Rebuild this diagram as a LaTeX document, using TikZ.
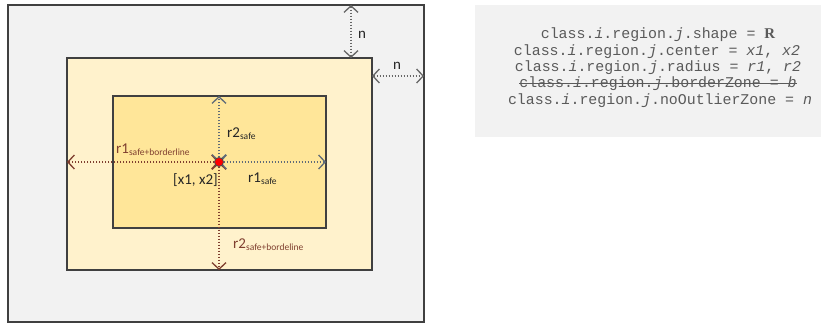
\documentclass[tikz,border=0pt]{standalone}
\usepackage{fontspec}
\setmainfont{Carlito}
\newfontfamily\monofnt{Liberation Mono}
\newfontfamily\serifbf{Liberation Serif}
\usetikzlibrary{arrows.meta}
\definecolor{boxgray}{HTML}{F2F2F2}
\definecolor{midfill}{HTML}{FFF2CC}
\definecolor{innfill}{HTML}{FFE699}
\definecolor{edgec}{HTML}{404040}
\definecolor{safec}{HTML}{5F6B78}
\definecolor{bordc}{HTML}{7F3F2F}
\definecolor{txtg}{HTML}{5A5A5A}
\newcommand{\sbs}[1]{\raisebox{-2.5pt}{\fontsize{9.5}{9.5}\selectfont #1}}
\tikzset{
  zone/.style={draw=edgec, line width=1.2pt},
  barb/.tip={Straight Barb[length=6.5pt,width=14pt,line width=1.3pt]},
  dimarrow/.style={dash pattern=on 1.6pt off 1.4pt, line width=1.1pt, barb-barb},
  lbl/.style={anchor=base west, inner sep=0pt, font=\fontsize{15}{15}\selectfont},
  code/.style={inner sep=0pt, text=txtg, font=\monofnt\fontsize{14.9}{15}\selectfont},
}
\begin{document}
\begin{tikzpicture}[x=1pt,y=-1pt]
\useasboundingbox (0,0) rectangle (824,324);
% boxes
\draw[zone, fill=boxgray] (8,5) rectangle (424,322);
\draw[zone, fill=midfill] (67,58) rectangle (372,270);
\draw[zone, fill=innfill] (113,96) rectangle (326,228);
% named points
\coordinate (c) at (219,162);
\coordinate (midL) at (67,162);
\coordinate (midB) at (219,270);
\coordinate (innR) at (326,162);
\coordinate (innT) at (219,96);
\coordinate (outT) at (351,5);
\coordinate (midT) at (351,58);
\coordinate (midR) at (372,76);
\coordinate (outR) at (424,76);
% arrows
\draw[dimarrow, draw=bordc] (c) -- (midL);
\draw[dimarrow, draw=bordc] (c) -- (midB);
\draw[dimarrow, draw=safec] (c) -- (innR);
\draw[dimarrow, draw=safec] (c) -- (innT);
\draw[dimarrow, draw=gray!80!black] (outT) -- (midT);
\draw[dimarrow, draw=gray!80!black] (midR) -- (outR);
\node[circle, fill=red, draw=black!70, line width=0.8pt, minimum size=9pt, inner sep=0pt] (dot) at (c) {};
% labels
\node[lbl, text=black!85] (r2s) at (227,137) {r2\sbs{safe}};
\node[lbl, text=bordc] (r1sb) at (116,153) {r1\sbs{safe+borderline}};
\node[lbl, text=black!85] (xy) at (173,184) {[x1, x2]};
\node[lbl, text=black!85] (r1s) at (248,182) {r1\sbs{safe}};
\node[lbl, text=bordc] (r2sb) at (233,248) {r2\sbs{safe+bordeline}};
\node[lbl, text=black!85] (n1) at (358,38) {n};
\node[lbl, text=black!85] (n2) at (393,69) {n};
% right panel
\fill[boxgray] (475,5) rectangle (821,137);
\node[code] (l1) at (658,35) {class.\textit{i}.region.\textit{j}.shape = {\serifbf\bfseries R}};
\node[code] (l2) at (657,52) {class.\textit{i}.region.\textit{j}.center = \textit{x1}, \textit{x2}};
\node[code] (l3) at (658,68) {class.\textit{i}.region.\textit{j}.radius = \textit{r1}, \textit{r2}};
\node[code] (l4) at (658,84) {class.\textit{i}.region.\textit{j}.borderZone = \textit{b}};
\node[code] (l5) at (660,101) {class.\textit{i}.region.\textit{j}.noOutlierZone = \textit{n}};
\draw[txtg, line width=0.7pt] ([yshift=0.5pt]l4.west) -- ([yshift=0.5pt]l4.east);
\end{tikzpicture}
\end{document}
